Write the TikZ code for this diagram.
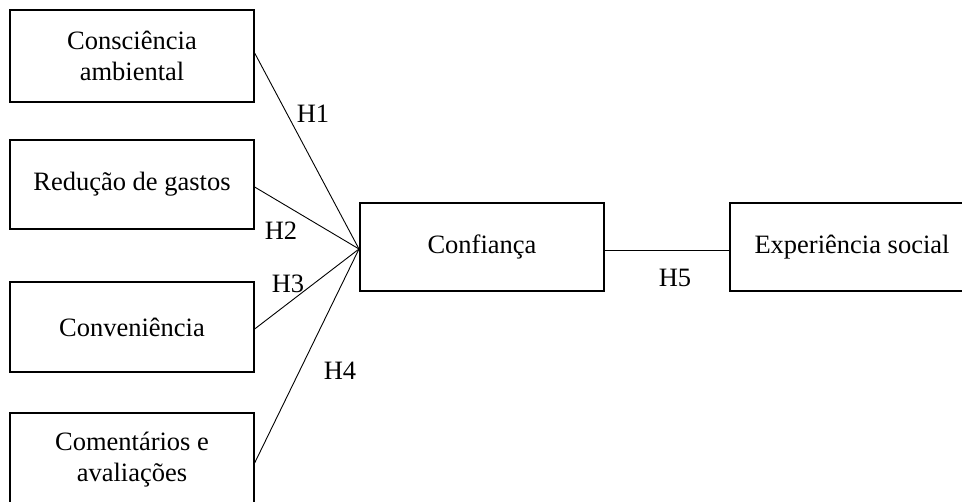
\documentclass[tikz,border=0pt]{standalone}
\usepackage{fontspec}
\setmainfont{Liberation Serif}
\begin{document}
\begin{tikzpicture}[x=1pt,y=-1pt,
  box/.style={draw,line width=1.3pt,inner sep=0pt,minimum width=244pt,align=center,
    font=\fontsize{26.5}{31}\selectfont},
  link/.style={line width=0.9pt},
  lab/.style={inner sep=0pt,font=\fontsize{26.5}{31}\selectfont}]
\useasboundingbox (0,0) rectangle (962,502);
\node[box,minimum height=92pt] (b1) at (132,56) {Consciência\\ambiental};
\node[box,minimum height=89pt] (b2) at (132,184.5) {Redução de gastos};
\node[box,minimum height=90pt] (b3) at (132,327) {Conveniência};
\node[box,minimum height=94pt] (b4) at (132,460) {Comentários e\\avaliações};
\node[box,minimum height=88pt] (conf) at (482,247) {Confiança};
\node[box,minimum height=88pt] (exp) at (852,247) {Experiência social};
\coordinate (hub) at (359,249);
\draw[link] (b1.east) ++(0,-3) -- (hub);
\draw[link] (b2.east) ++(0,2.5) -- (hub);
\draw[link] (b3.east) ++(0,2) -- (hub);
\draw[link] (b4.east) ++(0,3) -- (hub);
\draw[link] ([yshift=-3pt]conf.east) -- ([yshift=-3pt]exp.west);
\node[lab] (h1) at (313,114) {H1};
\node[lab] (h2) at (281,231) {H2};
\node[lab] (h3) at (288,284) {H3};
\node[lab] (h4) at (340,371) {H4};
\node[lab] (h5) at (675,278) {H5};
\end{tikzpicture}
\end{document}
